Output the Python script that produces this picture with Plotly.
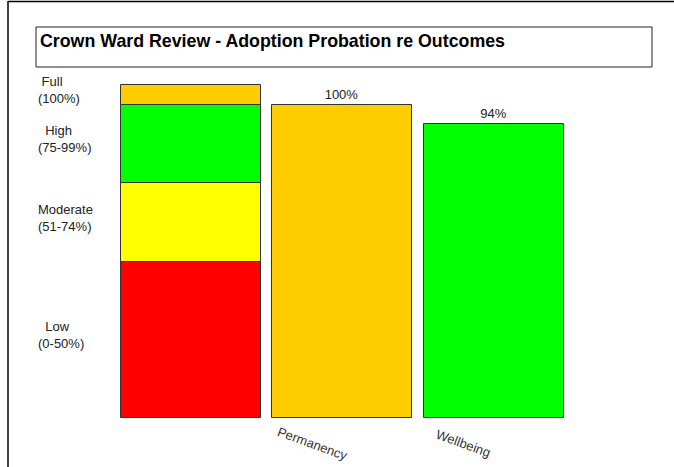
import plotly.graph_objects as go

# ---- data ----
title_text = "Crown Ward Review - Adoption Probation re Outcomes"
categories = ["Permanency", "Wellbeing"]
values = [100, 94]
value_labels = ["100%", "94%"]
bar_colors = ["#FFCC00", "#00FF00"]

band_names = ["Low<br>(0-50%)", "Moderate<br>(51-74%)", "High<br>(75-99%)", "Full<br>(100%)"]
band_lows = [0, 50, 75, 100]
band_highs = [50, 75, 100, 106.4]
band_colors = ["#FF0000", "#FFFF00", "#00FF00", "#FFCC00"]
band_indent = ["\u00a0\u00a0", "", "\u00a0\u00a0", "\u00a0"]

# ---- layout geometry ----
W, H = 674, 467
ML, MR, MT, MB = 115, 74, 74, 49
PW, PH = W - ML - MR, H - MT - MB
FONT = "Liberation Sans, Arial, sans-serif"


def px_x(px):
    return (px - ML) / PW


def px_y(py):
    return (H - MB - py) / PH


fig = go.Figure()

# legend band bar at x=0
fig.add_trace(go.Bar(
    x=[0] * len(band_lows),
    y=[h - l for l, h in zip(band_lows, band_highs)],
    base=band_lows,
    width=0.924,
    marker=dict(color=band_colors, line=dict(color="#333333", width=1)),
    showlegend=False, hoverinfo="skip",
))

# outcome bars
xs = list(range(1, len(categories) + 1))
fig.add_trace(go.Bar(
    x=xs, y=values, width=0.924,
    marker=dict(color=bar_colors, line=dict(color="#333333", width=1)),
    text=value_labels, textposition="outside", cliponaxis=False,
    textfont=dict(family=FONT, size=13, color="#222222"),
    showlegend=False, hoverinfo="skip",
))

annotations = []
# band labels
for name, lo, hi, ind in zip(band_names, band_lows, band_highs, band_indent):
    parts = name.split("<br>")
    annotations.append(dict(
        xref="paper", yref="y", x=px_x(36), y=(lo + hi) / 2, yshift=5,
        text=ind + parts[0] + "<br>" + parts[1], showarrow=False,
        xanchor="left", yanchor="middle", align="left",
        font=dict(family=FONT, size=13, color="#222222"),
    ))
# category labels (rotated)
for xi, cat in zip(xs, categories):
    annotations.append(dict(
        xref="x", yref="paper", x=xi - 0.2, y=0, yshift=-25,
        text=cat, showarrow=False, textangle=20,
        xanchor="center", yanchor="middle",
        font=dict(family=FONT, size=13, color="#333333"),
    ))
# title
annotations.append(dict(
    xref="paper", yref="paper", x=px_x(38), y=px_y(41),
    text="<b>" + title_text + "</b>", showarrow=False,
    xanchor="left", yanchor="middle",
    font=dict(family=FONT, size=17.8, color="#000000"),
))

shapes = [
    # outer frame lines
    dict(type="line", xref="paper", yref="paper", x0=px_x(8), x1=px_x(8),
         y0=px_y(1), y1=px_y(H + 2), line=dict(color="#000000", width=1.5)),
    dict(type="line", xref="paper", yref="paper", x0=px_x(8), x1=px_x(W + 2),
         y0=px_y(1.5), y1=px_y(1.5), line=dict(color="#000000", width=1.5)),
    # title box
    dict(type="rect", xref="paper", yref="paper", x0=px_x(36), x1=px_x(652),
         y0=px_y(67), y1=px_y(27), line=dict(color="#222222", width=1)),
]

fig.update_layout(
    width=W, height=H,
    margin=dict(l=ML, r=MR, t=MT, b=MB),
    paper_bgcolor="white", plot_bgcolor="white",
    xaxis=dict(range=[-0.5, 2.7], showgrid=False, zeroline=False,
               showticklabels=False, showline=False, ticks=""),
    yaxis=dict(range=[0, 110], showgrid=False, zeroline=False,
               showticklabels=False, showline=False, ticks=""),
    annotations=annotations, shapes=shapes,
    bargap=0, barmode="overlay",
    font=dict(family=FONT),
)

fig.write_html(
    "out.html",
    config={"displayModeBar": False},
    post_script="document.body.style.margin='0';document.body.style.overflow='hidden';",
)
